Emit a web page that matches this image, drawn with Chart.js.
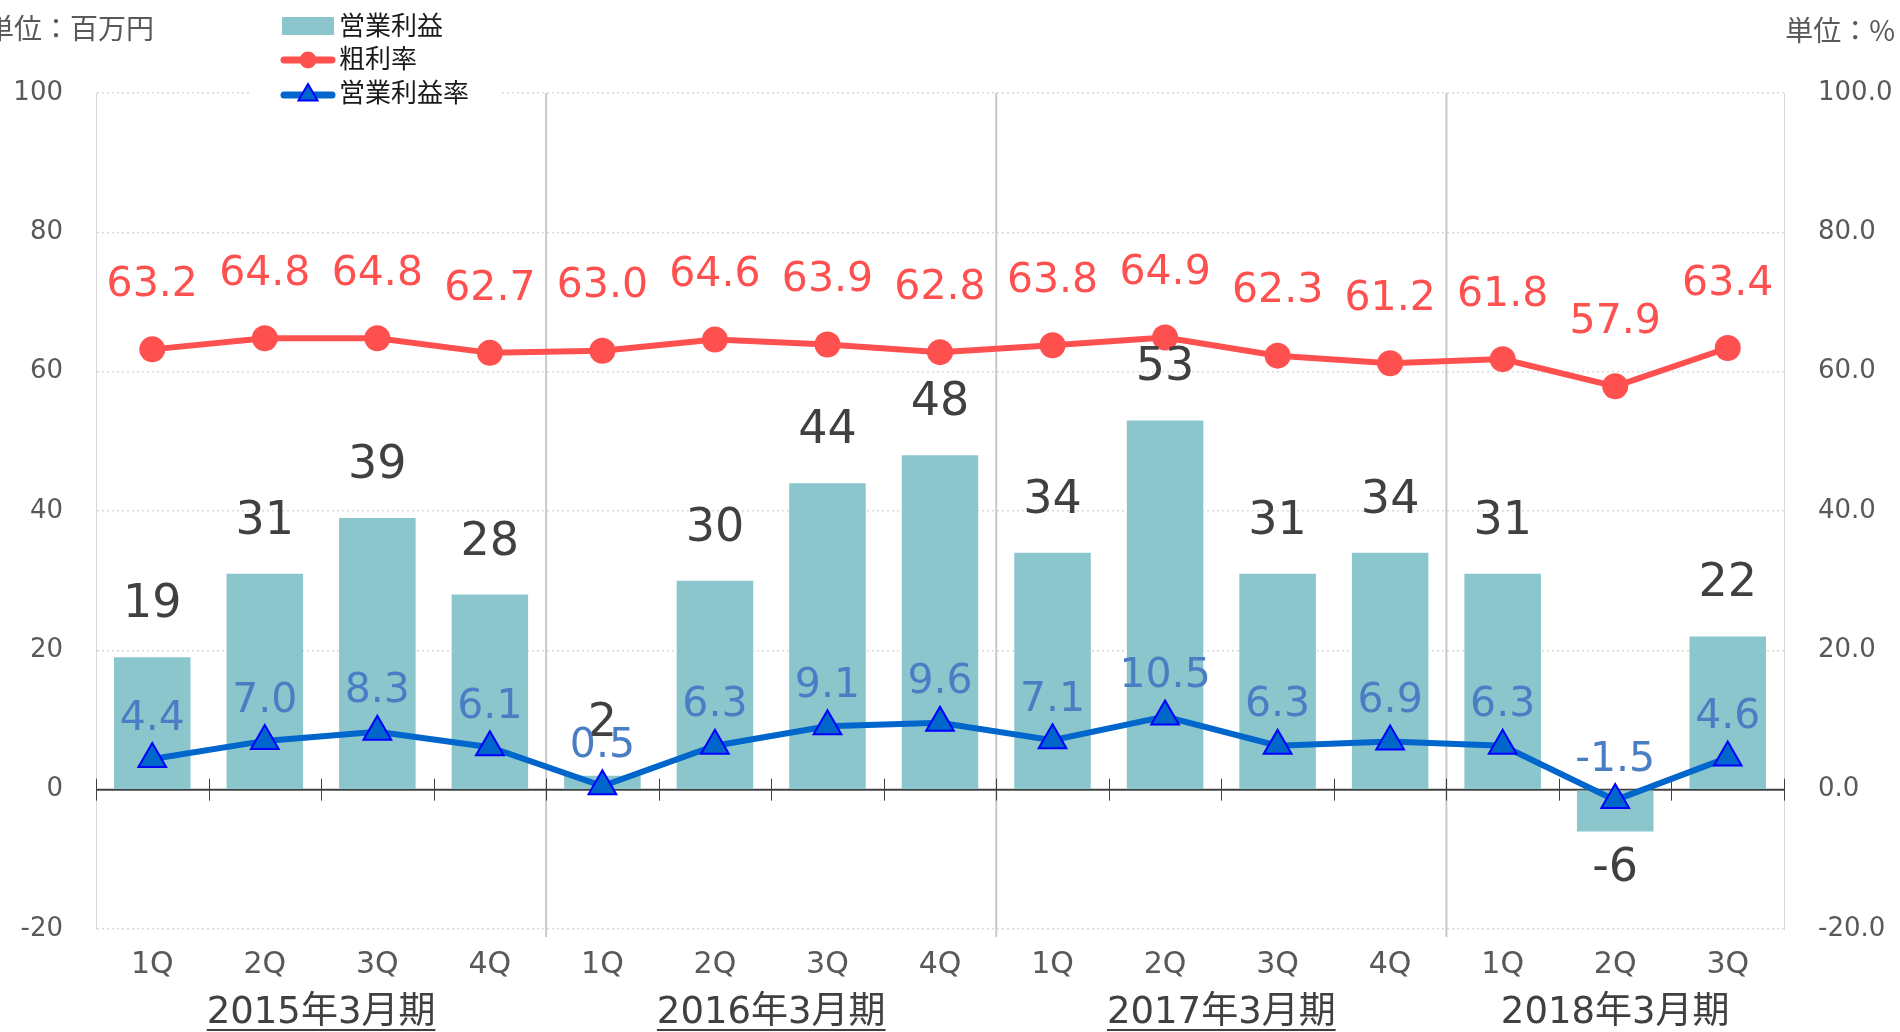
<!DOCTYPE html>
<html>
<head>
<meta charset="utf-8">
<title>四半期業績推移</title>
<script src="https://cdn.jsdelivr.net/npm/chart.js@4.4.0/dist/chart.umd.min.js"></script>
<style>
  body { margin: 0; background: #fff; }
  #wrap { width: 1900px; height: 1032px; }
</style>
</head>
<body>
<div id="wrap"><canvas id="stage" width="1900" height="1032"></canvas></div>
<script>
// 四半期ラベルと決算期
var quarters = ['1Q', '2Q', '3Q', '4Q', '1Q', '2Q', '3Q', '4Q', '1Q', '2Q', '3Q', '4Q', '1Q', '2Q', '3Q'];
var periods = ['2015年3月期', '2016年3月期', '2017年3月期', '2018年3月期'];
var periodSpan = [4, 4, 4, 3];

// 営業利益（百万円）
var opProfit = [19, 31, 39, 28, 2, 30, 44, 48, 34, 53, 31, 34, 31, -6, 22];
// 粗利率（%）
var grossMargin = [63.2, 64.8, 64.8, 62.7, 63.0, 64.6, 63.9, 62.8, 63.8, 64.9, 62.3, 61.2, 61.8, 57.9, 63.4];
// 営業利益率（%）
var opMargin = [4.4, 7.0, 8.3, 6.1, 0.5, 6.3, 9.1, 9.6, 7.1, 10.5, 6.3, 6.9, 6.3, -1.5, 4.6];

// 軸の範囲
var axisMin = -20;
var axisMax = 100;
var axisStep = 20;

var FONT = "'DejaVu Sans', 'Noto Sans CJK JP', sans-serif";
var JP = "'Noto Sans CJK JP', sans-serif";
var BAR = '#8BC6CD';
var RED = '#FF5050';
var BLUE = '#0066CC';

function drawTriangle(ctx, x, y, r) {
    ctx.beginPath();
    ctx.moveTo(x, y - r);
    ctx.lineTo(x + r * 0.866, y + r * 0.5);
    ctx.lineTo(x - r * 0.866, y + r * 0.5);
    ctx.closePath();
    ctx.fillStyle = BLUE;
    ctx.fill();
    ctx.lineWidth = 2;
    ctx.strokeStyle = '#0000FF';
    ctx.stroke();
}

var extras = {
    id: 'extras',
    beforeDatasetsDraw: function (chart) {
        var ctx = chart.ctx;
        var xs = chart.scales.x;
        var ys = chart.scales.y;
        var area = chart.chartArea;
        var step = (xs.getPixelForValue(1) - xs.getPixelForValue(0));
        ctx.save();
        // 決算期の区切り線
        var idx = 0;
        ctx.strokeStyle = '#C8C8C8';
        ctx.lineWidth = 2;
        for (var p = 0; p < periodSpan.length - 1; p++) {
            idx += periodSpan[p];
            var bx = xs.getPixelForValue(idx) - step / 2;
            ctx.beginPath();
            ctx.moveTo(bx, area.top);
            ctx.lineTo(bx, area.bottom + 8);
            ctx.stroke();
        }
        // 0 の線と目盛り
        var zy = ys.getPixelForValue(0);
        ctx.strokeStyle = '#404040';
        ctx.lineWidth = 2;
        ctx.beginPath();
        ctx.moveTo(area.left, zy);
        ctx.lineTo(area.right, zy);
        ctx.stroke();
        ctx.lineWidth = 1;
        for (var i = 0; i <= quarters.length; i++) {
            var tx = Math.round(xs.getPixelForValue(i) - step / 2) + 0.5;
            ctx.beginPath();
            ctx.moveTo(tx, zy - 11);
            ctx.lineTo(tx, zy + 11);
            ctx.stroke();
        }
        ctx.restore();
    },
    afterDatasetsDraw: function (chart) {
        var ctx = chart.ctx;
        ctx.save();
        ctx.textAlign = 'center';
        ctx.textBaseline = 'middle';

        // 営業利益のラベル
        ctx.font = '46px ' + FONT;
        ctx.fillStyle = '#404040';
        chart.getDatasetMeta(0).data.forEach(function (bar, i) {
            var v = opProfit[i];
            var y = v >= 0 ? bar.y - 52 : bar.y + 38;
            ctx.fillText(String(v), bar.x, y);
        });

        // 粗利率のラベル
        ctx.font = '41px ' + FONT;
        ctx.fillStyle = RED;
        chart.getDatasetMeta(1).data.forEach(function (pt, i) {
            ctx.fillText(grossMargin[i].toFixed(1), pt.x, pt.y - 64);
        });

        // 営業利益率のラベル
        ctx.fillStyle = '#4A7EC4';
        chart.getDatasetMeta(2).data.forEach(function (pt, i) {
            ctx.fillText(opMargin[i].toFixed(1), pt.x, pt.y - 40);
        });
        ctx.restore();
    },
    afterDraw: function (chart) {
        var ctx = chart.ctx;
        var xs = chart.scales.x;
        var step = (xs.getPixelForValue(1) - xs.getPixelForValue(0));
        ctx.save();

        // 決算期ラベル
        ctx.font = '37px ' + FONT;
        ctx.fillStyle = '#404040';
        ctx.strokeStyle = '#404040';
        ctx.textAlign = 'center';
        ctx.textBaseline = 'middle';
        var start = 0;
        periods.forEach(function (label, p) {
            var x0 = xs.getPixelForValue(start) - step / 2;
            var x1 = xs.getPixelForValue(start + periodSpan[p] - 1) + step / 2;
            var cx = (x0 + x1) / 2;
            ctx.fillText(label, cx, 1013);
            if (p < periods.length - 1) {
                var w = ctx.measureText(label).width;
                ctx.lineWidth = 2;
                ctx.beginPath();
                ctx.moveTo(cx - w / 2, 1030);
                ctx.lineTo(cx + w / 2, 1030);
                ctx.stroke();
            }
            start += periodSpan[p];
        });

        // 単位
        ctx.font = '28px ' + JP;
        ctx.fillStyle = '#595959';
        ctx.textAlign = 'right';
        ctx.fillText('単位：百万円', 154, 28);
        ctx.fillText('単位：%', 1895, 30);

        // 凡例
        ctx.fillStyle = '#FFFFFF';
        ctx.fillRect(250, 0, 252, 110);
        ctx.fillStyle = BAR;
        ctx.fillRect(282, 17, 52, 18);
        ctx.lineCap = 'round';
        ctx.lineWidth = 7;
        ctx.strokeStyle = RED;
        ctx.beginPath();
        ctx.moveTo(284, 60);
        ctx.lineTo(332, 60);
        ctx.stroke();
        ctx.fillStyle = RED;
        ctx.beginPath();
        ctx.arc(308, 60, 8.5, 0, Math.PI * 2);
        ctx.fill();
        ctx.strokeStyle = BLUE;
        ctx.beginPath();
        ctx.moveTo(284, 95);
        ctx.lineTo(332, 95);
        ctx.stroke();
        drawTriangle(ctx, 308, 95, 11);

        ctx.font = '26px ' + JP;
        ctx.fillStyle = '#1A1A1A';
        ctx.textAlign = 'left';
        ctx.fillText('営業利益', 339, 25);
        ctx.fillText('粗利率', 339, 58);
        ctx.fillText('営業利益率', 339, 92);
        ctx.restore();
    }
};

var gridColor = function (c) {
    return c.tick && c.tick.value === 0 ? 'rgba(0,0,0,0)' : '#D9D9D9';
};

var canvas = document.getElementById('stage');
var chart = new Chart(canvas, {
    type: 'bar',
    data: {
        labels: quarters,
        datasets: [
            {
                label: '営業利益',
                data: opProfit,
                backgroundColor: BAR,
                barPercentage: 0.68,
                categoryPercentage: 1,
                yAxisID: 'y',
                order: 3
            },
            {
                type: 'line',
                label: '粗利率',
                data: grossMargin,
                borderColor: RED,
                backgroundColor: RED,
                borderWidth: 6,
                pointStyle: 'circle',
                pointRadius: 13,
                pointBorderWidth: 0,
                tension: 0,
                yAxisID: 'y1',
                order: 1
            },
            {
                type: 'line',
                label: '営業利益率',
                data: opMargin,
                borderColor: BLUE,
                backgroundColor: BLUE,
                borderWidth: 6,
                pointStyle: 'triangle',
                pointRadius: 16,
                pointBorderColor: '#0000FF',
                pointBorderWidth: 2,
                tension: 0,
                yAxisID: 'y1',
                order: 2
            }
        ]
    },
    options: {
        responsive: false,
        animation: false,
        devicePixelRatio: 1,
        layout: { padding: { top: 93, bottom: 0, left: 0, right: 0 } },
        plugins: {
            legend: { display: false },
            tooltip: { enabled: false },
            title: { display: false }
        },
        scales: {
            x: {
                grid: { display: false },
                border: { display: false },
                ticks: {
                    color: '#595959',
                    font: { family: FONT, size: 30 },
                    padding: 10,
                    maxRotation: 0,
                    autoSkip: false
                },
                afterFit: function (s) { s.height = 103; }
            },
            y: {
                position: 'left',
                min: axisMin,
                max: axisMax,
                ticks: {
                    stepSize: axisStep,
                    color: '#595959',
                    font: { family: FONT, size: 26 },
                    padding: 33,
                    callback: function (v) { return String(v); }
                },
                grid: { color: gridColor, lineWidth: 1.5, drawTicks: false },
                border: { display: true, color: '#D9D9D9', width: 1, dash: [2, 3] },
                afterFit: function (s) { s.width = 96; }
            },
            y1: {
                position: 'right',
                min: axisMin,
                max: axisMax,
                ticks: {
                    stepSize: axisStep,
                    color: '#595959',
                    font: { family: FONT, size: 26 },
                    padding: 34,
                    callback: function (v) { return v.toFixed(1); }
                },
                grid: { drawOnChartArea: false, drawTicks: false },
                border: { display: true, color: '#D9D9D9', width: 1 },
                afterFit: function (s) { s.width = 116; }
            }
        }
    },
    plugins: [extras]
});
</script>
</body>
</html>
